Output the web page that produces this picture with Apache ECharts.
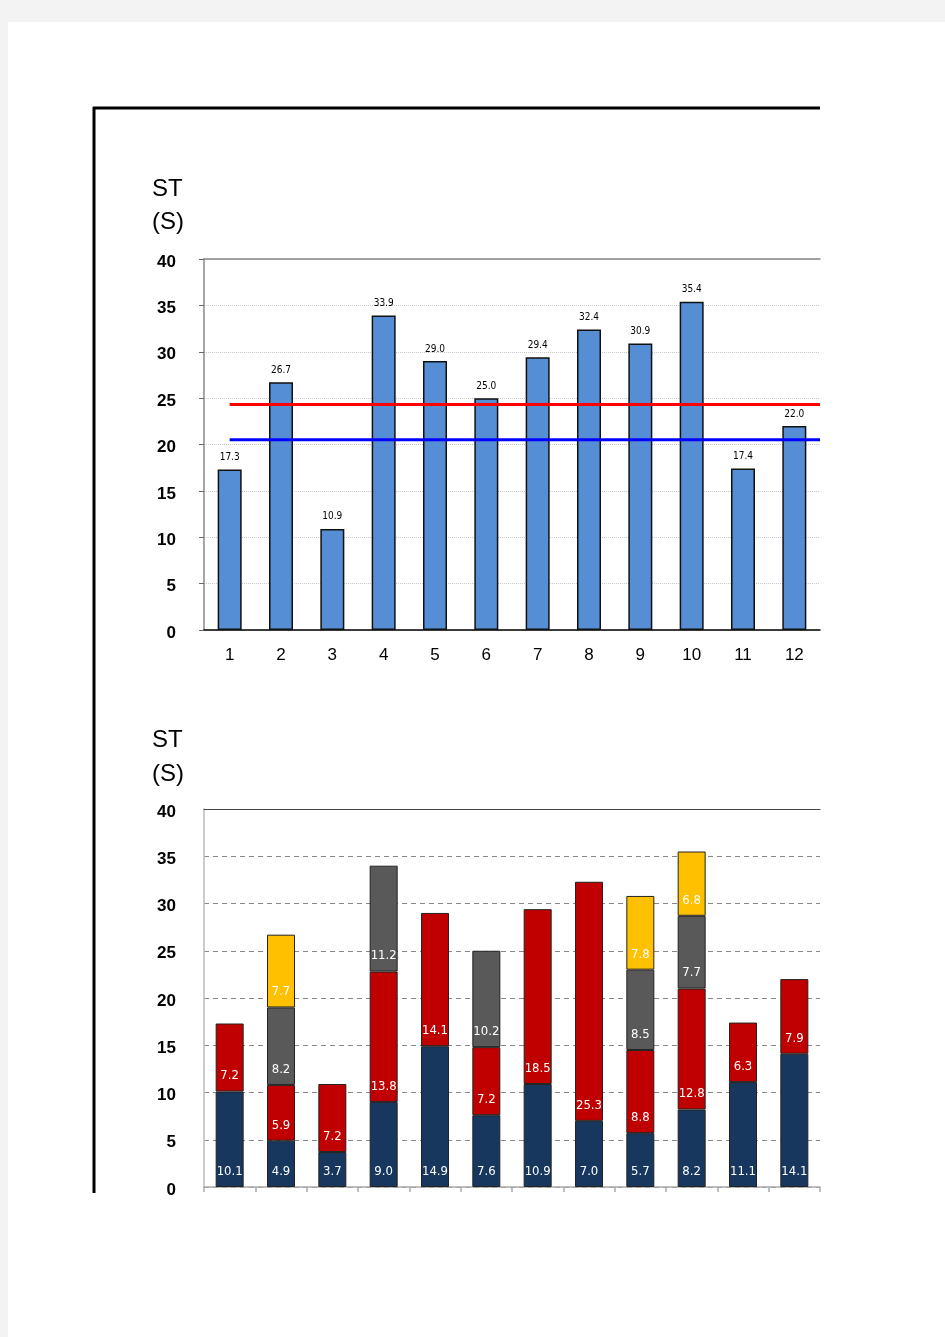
<!DOCTYPE html>
<html>
<head>
<meta charset="utf-8">
<script src="https://cdn.jsdelivr.net/npm/echarts@6/dist/echarts.min.js"></script>
<style>
html,body{margin:0;padding:0;background:#f3f3f3;}
#c{width:945px;height:1337px;}
</style>
</head>
<body>
<div id="c"></div>
<script>
const categories = ['1','2','3','4','5','6','7','8','9','10','11','12'];
const totalST = [17.3, 26.7, 10.9, 33.9, 29.0, 25.0, 29.4, 32.4, 30.9, 35.4, 17.4, 22.0];
const redLineValue = 24.3;
const blueLineValue = 20.5;
const navyPart = [10.1, 4.9, 3.7, 9.0, 14.9, 7.6, 10.9, 7.0, 5.7, 8.2, 11.1, 14.1];
const redPart = [7.2, 5.9, 7.2, 13.8, 14.1, 7.2, 18.5, 25.3, 8.8, 12.8, 6.3, 7.9];
const grayPart = [null, 8.2, null, 11.2, null, 10.2, null, null, 8.5, 7.7, null, null];
const yellowPart = [null, 7.7, null, null, null, null, null, null, 7.8, 6.8, null, null];
const yTicks = [0, 5, 10, 15, 20, 25, 30, 35, 40];

const NARROW = '"Liberation Sans Narrow","Arial Narrow","DejaVu Sans Condensed",sans-serif';
const SANS = '"Liberation Sans",Arial,sans-serif';

const chart = echarts.init(document.getElementById('c'), null, {renderer: 'canvas'});

function stackSeries(name, data, color) {
  return {
    name: name, type: 'bar', stack: 's', xAxisIndex: 2, yAxisIndex: 1,
    data: data, barWidth: 28,
    itemStyle: {color: color, borderColor: '#222', borderWidth: 1},
    label: {
      show: true, position: 'insideBottom', distance: 9,
      color: '#fff', fontFamily: NARROW, fontSize: 13,
      formatter: p => (p.value == null ? '' : Number(p.value).toFixed(1))
    }
  };
}

const yLabel = {
  color: '#000', fontFamily: SANS, fontWeight: 'bold', fontSize: 17, margin: 28,
  verticalAlign: 'top', lineHeight: 6,
  formatter: v => (yTicks.indexOf(v) >= 0 ? String(v) : '')
};

const option = {
  backgroundColor: '#f3f3f3',
  animation: false,
  graphic: [
    {type: 'rect', left: 8, top: 22, shape: {width: 937, height: 1315}, style: {fill: '#fff'}, z: -10},
    {type: 'line', shape: {x1: 93, y1: 108, x2: 820, y2: 108}, style: {stroke: '#000', lineWidth: 3}},
    {type: 'line', shape: {x1: 94, y1: 107, x2: 94, y2: 1193}, style: {stroke: '#000', lineWidth: 3}},
    {type: 'text', left: 152, top: 173, style: {text: 'ST\n(S)', font: '24px ' + SANS, lineHeight: 33, fill: '#000'}},
    {type: 'text', left: 152, top: 723, style: {text: 'ST\n(S)', font: '24px ' + SANS, lineHeight: 34, fill: '#000'}}
  ],
  grid: [
    {left: 204, top: 259, width: 616, height: 371},
    {left: 204, top: 809, width: 616, height: 378}
  ],
  xAxis: [
    {
      type: 'category', gridIndex: 0, data: categories,
      axisLine: {show: true, lineStyle: {color: '#000', width: 1.5}},
      axisTick: {show: false},
      axisLabel: {color: '#000', fontFamily: SANS, fontSize: 17, margin: 17}
    },
    {
      type: 'value', gridIndex: 0, position: 'top', min: 0, max: 12,
      axisLine: {show: true, onZero: false, lineStyle: {color: '#888', width: 1.5}},
      axisTick: {show: false}, axisLabel: {show: false}, splitLine: {show: false}
    },
    {
      type: 'category', gridIndex: 1, data: categories,
      axisLine: {show: true, lineStyle: {color: '#aaa', width: 1.5}},
      axisTick: {show: true, alignWithLabel: false, length: 5, lineStyle: {color: '#aaa', width: 1.5}},
      axisLabel: {show: false}
    },
    {
      type: 'value', gridIndex: 1, position: 'top', min: 0, max: 12,
      axisLine: {show: true, onZero: false, lineStyle: {color: '#444', width: 1}},
      axisTick: {show: false}, axisLabel: {show: false}, splitLine: {show: false}
    }
  ],
  yAxis: [
    {
      type: 'value', gridIndex: 0, min: 0, max: 40, interval: 5,
      axisLine: {show: true, lineStyle: {color: '#888', width: 1.5}},
      axisTick: {show: true, length: 5, lineStyle: {color: '#666'}},
      axisLabel: yLabel,
      splitLine: {show: true, lineStyle: {color: '#c8c8c8', type: 'dotted', width: 1}}
    },
    {
      type: 'value', gridIndex: 1, min: 0, max: 40, interval: 5,
      axisLine: {show: true, lineStyle: {color: '#bbb', width: 1.5}},
      axisTick: {show: false},
      axisLabel: yLabel,
      splitLine: {show: true, lineStyle: {color: '#888', type: [5, 4], width: 1}}
    }
  ],
  series: [
    {
      name: 'ST', type: 'bar', xAxisIndex: 0, yAxisIndex: 0, data: totalST, barWidth: 24,
      itemStyle: {color: '#558ed5', borderColor: '#111', borderWidth: 1.5},
      label: {show: true, position: 'top', distance: 7, color: '#000', fontFamily: NARROW, fontSize: 10,
        formatter: p => Number(p.value).toFixed(1)}
    },
    {
      name: 'red', type: 'line', xAxisIndex: 1, yAxisIndex: 0, symbol: 'none', z: 5,
      data: [[0.5, redLineValue], [12, redLineValue]],
      lineStyle: {color: '#ff0000', width: 3}
    },
    {
      name: 'blue', type: 'line', xAxisIndex: 1, yAxisIndex: 0, symbol: 'none', z: 5,
      data: [[0.5, blueLineValue], [12, blueLineValue]],
      lineStyle: {color: '#0000ff', width: 3}
    },
    stackSeries('navy', navyPart, '#17375e'),
    stackSeries('redPart', redPart, '#c00000'),
    stackSeries('grayPart', grayPart, '#595959'),
    stackSeries('yellowPart', yellowPart, '#ffc000')
  ]
};
chart.setOption(option);
</script>
</body>
</html>
